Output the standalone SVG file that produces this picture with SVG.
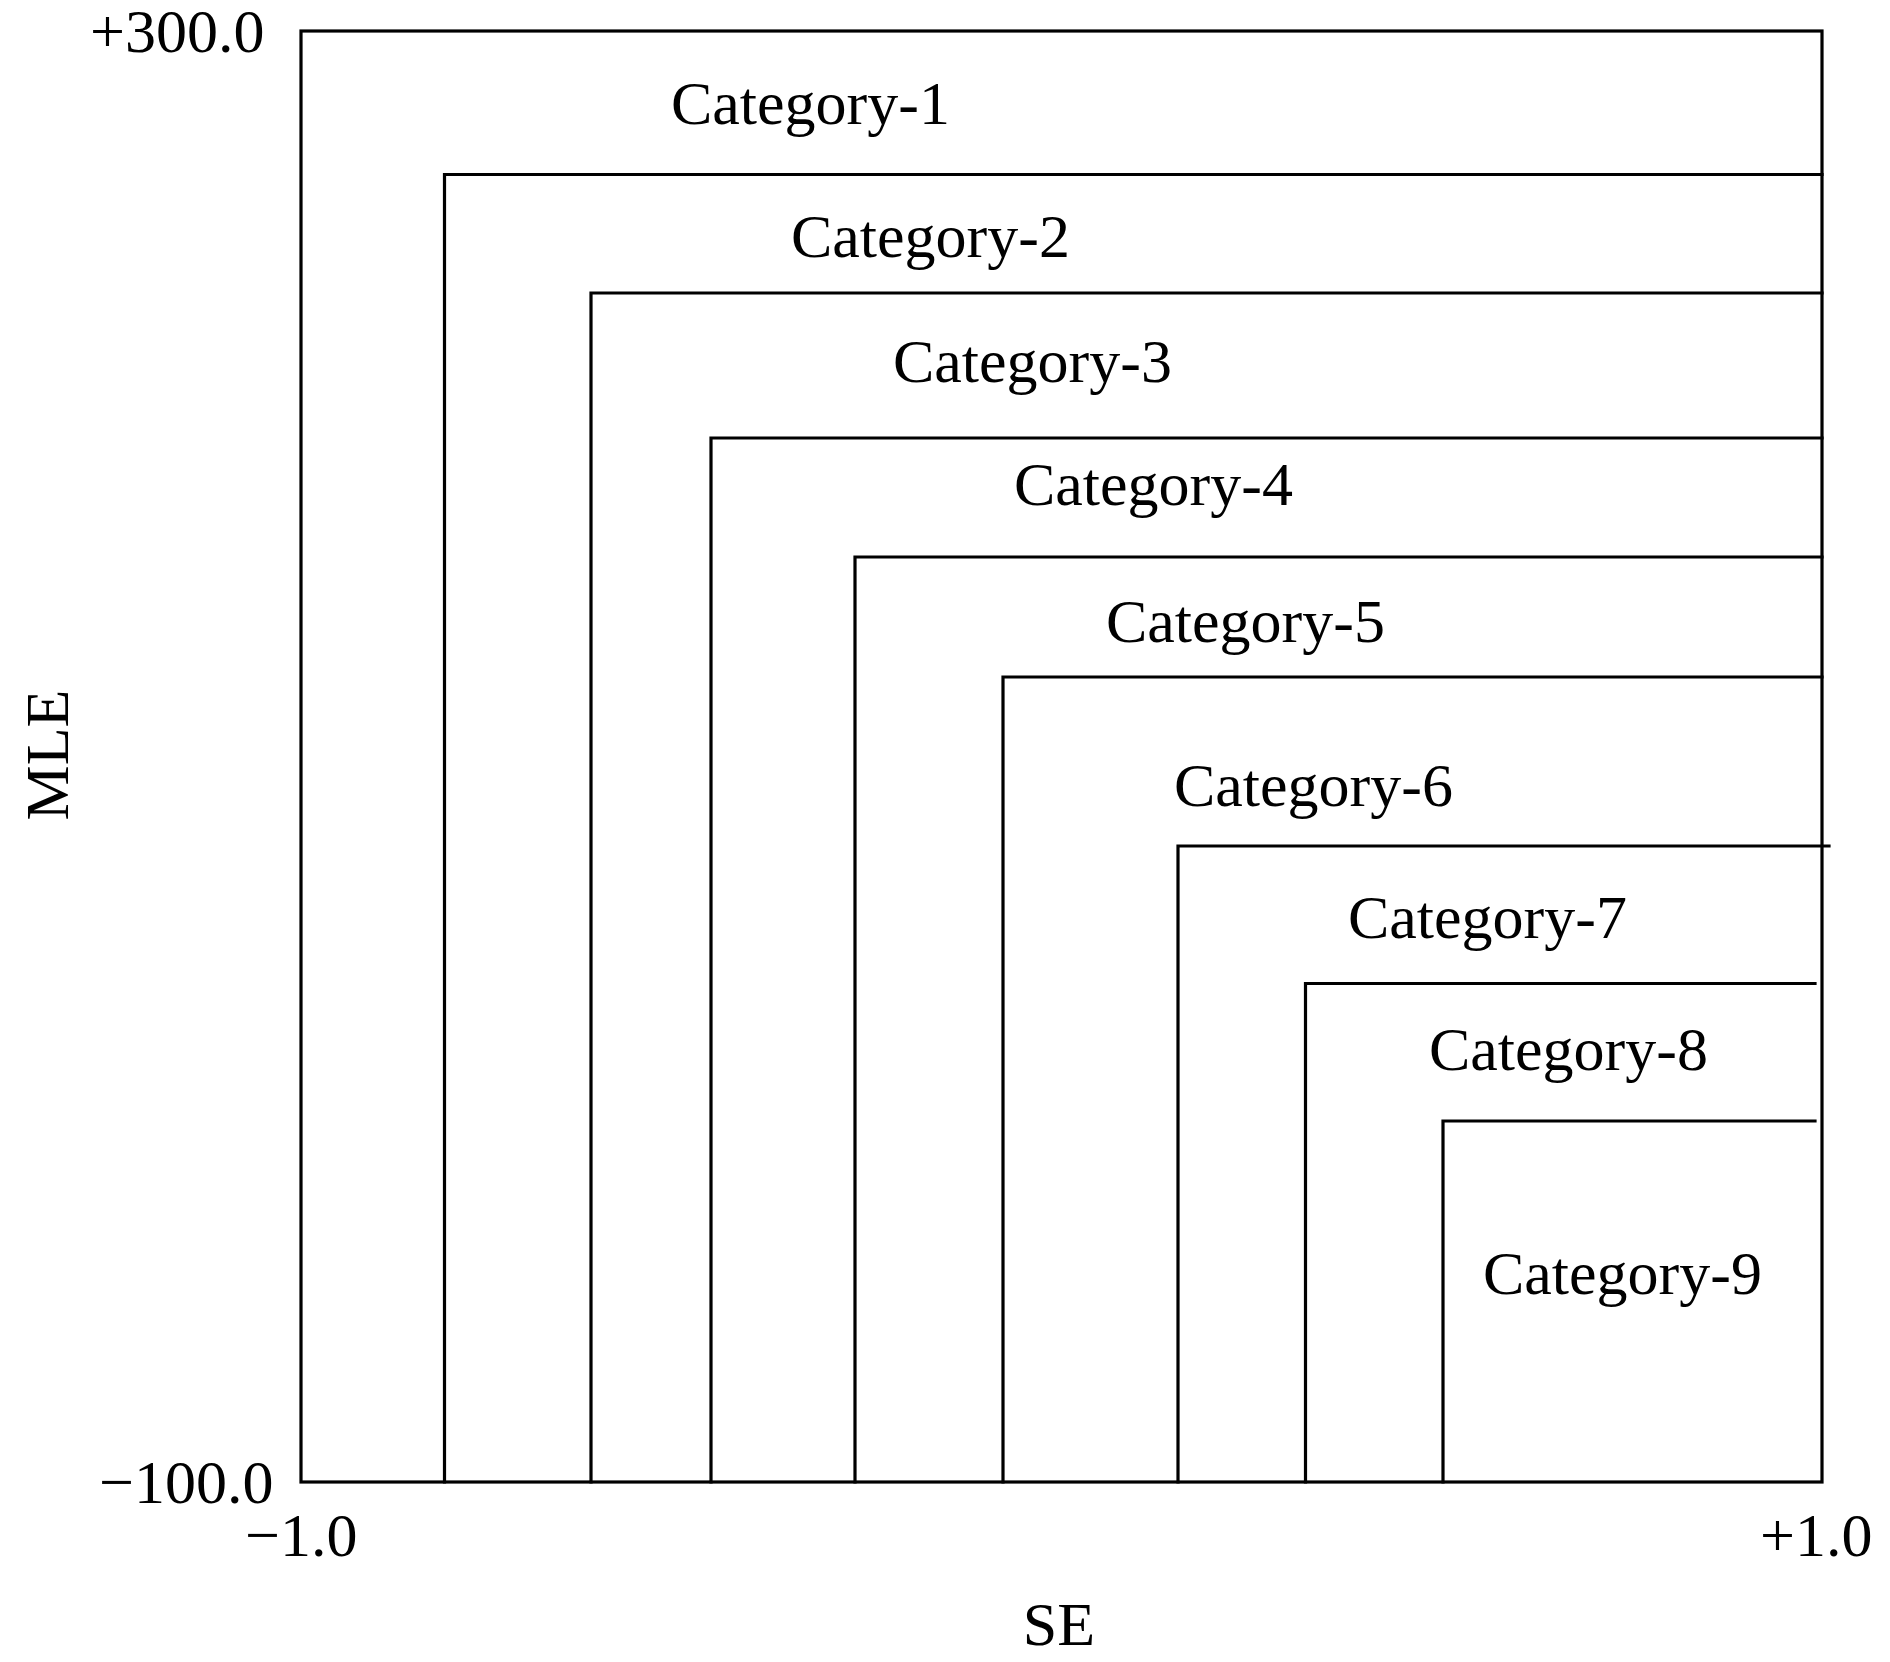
<svg xmlns="http://www.w3.org/2000/svg" width="1890" height="1662" viewBox="0 0 1890 1662">
<style>
.ln{fill:none;stroke:#000;stroke-width:3.2;stroke-linecap:square}
.t{font-family:"Liberation Serif","Times New Roman",serif;font-size:62px;fill:#000}
</style>
<rect width="1890" height="1662" fill="#fff"/>
<g id="connectors">
<rect class="ln" x="301" y="31" width="1521" height="1451"/>
<path class="ln" d="M444.5,1482 V174.5 H1822"/>
<path class="ln" d="M591,1482 V293 H1822"/>
<path class="ln" d="M711,1482 V438 H1822"/>
<path class="ln" d="M855,1482 V557 H1822"/>
<path class="ln" d="M1003,1482 V677 H1822"/>
<path class="ln" d="M1178,1482 V846 H1829"/>
<path class="ln" d="M1305.5,1482 V983.5 H1815"/>
<path class="ln" d="M1443,1482 V1121 H1815"/>
</g>
<g id="axis-labels">
<text class="t" x="90" y="52">+300.0</text>
<text class="t" x="99" y="1503">−100.0</text>
<text class="t" x="245" y="1556">−1.0</text>
<text class="t" x="1760" y="1556">+1.0</text>
<text class="t" x="1059" y="1645" text-anchor="middle">SE</text>
<text class="t" transform="translate(68,755) rotate(-90)" text-anchor="middle">MLE</text>
</g>
<g id="cat1"><text class="t" x="671" y="124">Category-1</text></g>
<g id="cat2"><text class="t" x="791" y="257">Category-2</text></g>
<g id="cat3"><text class="t" x="893" y="382">Category-3</text></g>
<g id="cat4"><text class="t" x="1014" y="505">Category-4</text></g>
<g id="cat5"><text class="t" x="1106" y="642">Category-5</text></g>
<g id="cat6"><text class="t" x="1174" y="806">Category-6</text></g>
<g id="cat7"><text class="t" x="1348" y="938">Category-7</text></g>
<g id="cat8"><text class="t" x="1429" y="1070">Category-8</text></g>
<g id="cat9"><text class="t" x="1483" y="1294">Category-9</text></g>
</svg>
